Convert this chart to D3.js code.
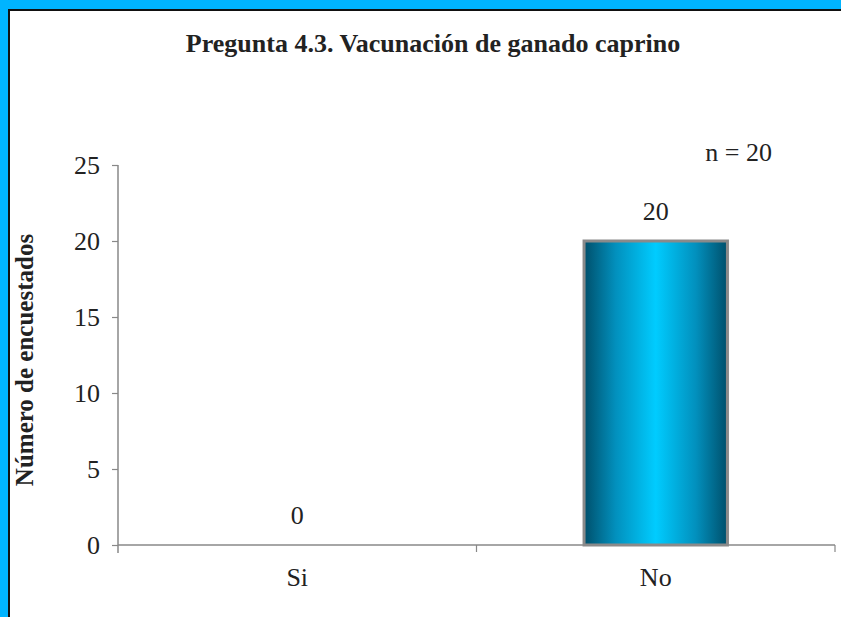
<!DOCTYPE html>
<html>
<head>
<meta charset="utf-8">
<script src="https://cdn.jsdelivr.net/npm/d3@7"></script>
<style>
  html, body { margin: 0; background: #fff; overflow: hidden; }
  svg { display: block; }
  text { font-family: "Liberation Serif", "Times New Roman", serif; fill: #222; }
</style>
</head>
<body>
<div id="chart"></div>
<script>
// data
const categories = ['Si', 'No']
const counts = [0, 20]
const yTicks = [0, 5, 10, 15, 20, 25]
const titleText = 'Pregunta 4.3. Vacunación de ganado caprino'
const yTitle = 'Número de encuestados'
const nText = 'n = 20'

const w = 841
const h = 617

const svg = d3.select('#chart').append('svg')
  .attr('width', w)
  .attr('height', h)

// gradient for the bar, dark edges, bright middle
const defs = svg.append('defs')
const grad = defs.append('linearGradient')
  .attr('id', 'barGrad')
  .attr('x1', '0%').attr('x2', '100%')
  .attr('y1', '0%').attr('y2', '0%')
grad.append('stop').attr('offset', '0%').attr('stop-color', '#004f6b')
grad.append('stop').attr('offset', '22%').attr('stop-color', '#0290bd')
grad.append('stop').attr('offset', '50%').attr('stop-color', '#00ccff')
grad.append('stop').attr('offset', '78%').attr('stop-color', '#0290bd')
grad.append('stop').attr('offset', '100%').attr('stop-color', '#004f6b')

// frame: blue strips on left and top, black inner lines
svg.append('rect').attr('x', 0).attr('y', 0).attr('width', w).attr('height', h).attr('fill', '#fff')
svg.append('rect').attr('x', 0).attr('y', 0).attr('width', w).attr('height', 9).attr('fill', '#00b4ff')
svg.append('rect').attr('x', 0).attr('y', 0).attr('width', 8).attr('height', h).attr('fill', '#00b4ff')
svg.append('rect').attr('x', 8).attr('y', 9).attr('width', w - 8).attr('height', 2).attr('fill', '#111')
svg.append('rect').attr('x', 8).attr('y', 9).attr('width', 2).attr('height', h - 9).attr('fill', '#111')

const pLeft = 118
const pRight = 835
const pTop = 165
const pBottom = 545

const x = d3.scaleBand()
  .domain(categories)
  .range([pLeft, pRight])

const y = d3.scaleLinear()
  .domain([0, 25])
  .range([pBottom, pTop])

// y axis
const yAxis = svg.append('g')
  .attr('transform', `translate(${pLeft},0)`)
  .call(d3.axisLeft(y).tickValues(yTicks).tickSize(6).tickPadding(12))
yAxis.select('.domain').attr('stroke', '#888').attr('stroke-width', 1.5)
  .attr('d', `M-0,${pTop}V${pBottom + 8}`)
yAxis.selectAll('.tick line').attr('stroke', '#888').attr('stroke-width', 1.2)
yAxis.selectAll('.tick text')
  .style('font-family', '"Liberation Serif", serif')
  .style('font-size', '26px')
  .attr('fill', '#222')

// x axis
const xAxis = svg.append('g')
  .attr('transform', `translate(0,${pBottom})`)
  .call(d3.axisBottom(x).tickSize(0).tickPadding(23))
xAxis.select('.domain').attr('stroke', '#888').attr('stroke-width', 1.5)
  .attr('d', `M${pLeft},0H${pRight}`)
xAxis.selectAll('.tick text')
  .style('font-family', '"Liberation Serif", serif')
  .style('font-size', '26px')
  .attr('fill', '#222')

// boundary ticks between categories
const bounds = [x(categories[1]), pRight]
svg.selectAll('.bound').data(bounds).enter().append('line')
  .attr('class', 'bound')
  .attr('x1', d => d).attr('x2', d => d)
  .attr('y1', pBottom).attr('y2', pBottom + 7)
  .attr('stroke', '#888').attr('stroke-width', 1.2)

// bars
const barW = x.bandwidth() * 0.4
svg.selectAll('.bar').data(counts).enter().append('rect')
  .attr('class', 'bar')
  .attr('x', (d, i) => x(categories[i]) + x.bandwidth() / 2 - barW / 2)
  .attr('y', d => y(d))
  .attr('width', barW)
  .attr('height', d => pBottom - y(d))
  .attr('fill', 'url(#barGrad)')
  .attr('stroke', '#8a8a8a')
  .attr('stroke-width', d => d > 0 ? 3 : 0)

// value labels
svg.selectAll('.val').data(counts).enter().append('text')
  .attr('class', 'val')
  .attr('x', (d, i) => x(categories[i]) + x.bandwidth() / 2)
  .attr('y', d => y(d) - 21)
  .attr('text-anchor', 'middle')
  .style('font-size', '26px')
  .text(d => d)

// title
svg.append('text')
  .attr('x', 433)
  .attr('y', 52)
  .attr('text-anchor', 'middle')
  .style('font-size', '26px')
  .style('font-weight', 'bold')
  .attr('fill', '#000')
  .text(titleText)

// n label
svg.append('text')
  .attr('x', 772)
  .attr('y', 161)
  .attr('text-anchor', 'end')
  .style('font-size', '26px')
  .text(nText)

// y title
svg.append('text')
  .attr('transform', `translate(33,360) rotate(-90)`)
  .attr('text-anchor', 'middle')
  .style('font-size', '25px')
  .style('font-weight', 'bold')
  .attr('fill', '#000')
  .text(yTitle)
</script>
</body>
</html>
